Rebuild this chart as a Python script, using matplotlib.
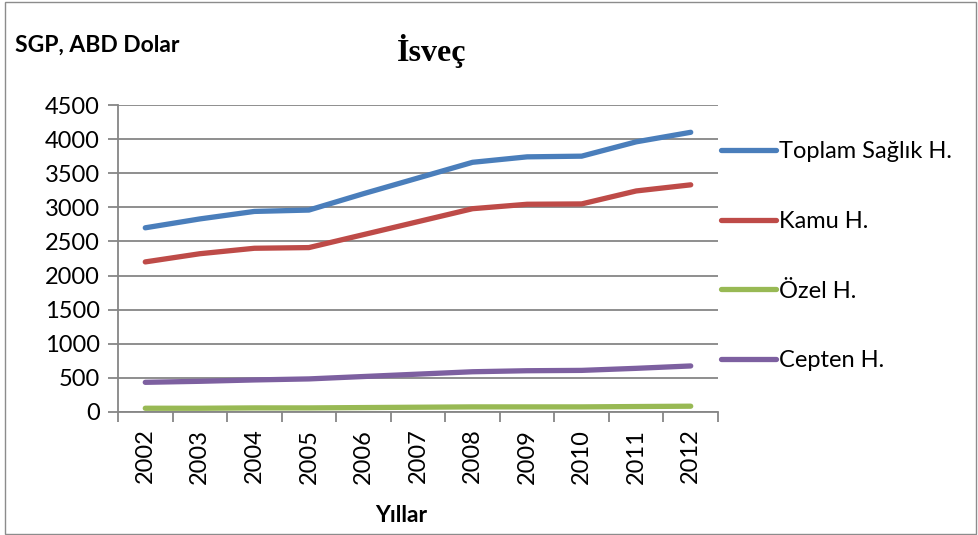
import matplotlib
matplotlib.use("Agg")
import matplotlib.pyplot as plt
from matplotlib.patches import Rectangle

years = ["2002", "2003", "2004", "2005", "2006", "2007", "2008", "2009", "2010", "2011", "2012"]
toplam = [2700, 2830, 2940, 2960, 3200, 3430, 3660, 3740, 3750, 3960, 4100]
kamu = [2200, 2320, 2400, 2410, 2600, 2790, 2980, 3045, 3050, 3240, 3330]
ozel = [55, 55, 60, 60, 65, 70, 75, 75, 75, 80, 85]
cepten = [435, 450, 470, 485, 520, 555, 590, 605, 610, 640, 675]
series_names = ["Toplam Sağlık H.", "Kamu H.", "Özel H.", "Cepten H."]
yticks = list(range(0, 5000, 500))

colors = ["#4A7EBB", "#BE4B48", "#98B954", "#7D60A0"]
plt.rcParams["font.family"] = ["Lato", "DejaVu Sans"]

W, H = 979, 535
fig = plt.figure(figsize=(W / 100, H / 100), dpi=100)
ax = fig.add_axes([118 / W, 1 - 412 / H, (718 - 118) / W, (412 - 105) / H])

x = list(range(len(years)))
for vals, name, c in zip([toplam, kamu, ozel, cepten], series_names, colors):
    ax.plot(x, vals, color=c, lw=3.8, solid_capstyle="round", label=name)

grid_c = "#868686"
fs = 17
ax.set_xlim(-0.5, len(years) - 0.5)
ax.set_ylim(0, 4500)
ax.set_yticks(yticks)
ax.set_yticklabels([str(v) for v in yticks], fontsize=fs)
ax.yaxis.grid(True, color=grid_c, lw=1.3)
ax.set_axisbelow(True)
ax.set_xticks(x)
ax.set_xticklabels(years, rotation=90, fontsize=fs)
ax.set_xticks([i - 0.5 for i in range(len(years) + 1)], minor=True)
ax.tick_params(axis="x", which="major", length=0, pad=12)
ax.tick_params(axis="x", which="minor", length=7, color=grid_c, width=1.3)
ax.tick_params(axis="y", length=7, color=grid_c, width=1.3, pad=6)
for s in ["top", "right"]:
    ax.spines[s].set_visible(False)
for s in ["left", "bottom"]:
    ax.spines[s].set_color(grid_c)
    ax.spines[s].set_linewidth(1.3)

leg = fig.legend(loc="upper left", bbox_to_anchor=(712 / W, 1 - 132 / H),
                 frameon=False, fontsize=fs, handlelength=2.3, handletextpad=0.15,
                 labelspacing=2.06, borderaxespad=0)

fig.text(15 / W, 1 - 45 / H, "SGP, ABD Dolar", fontsize=16.5, fontweight="bold",
         va="center", ha="left")
fig.text(432 / W, 1 - 61 / H, "İsveç", fontsize=23, fontweight="bold",
         family="Liberation Serif", va="baseline", ha="center")
fig.text(401 / W, 1 - 515 / H, "Yıllar", fontsize=16.5, fontweight="bold",
         va="center", ha="center")

fig.patches.append(Rectangle((5 / W, 1 / H), (W - 8) / W, (H - 3) / H,
                             transform=fig.transFigure, fill=False,
                             edgecolor="#8c8c8c", lw=1.0))

fig.savefig("out.png", dpi=100)
